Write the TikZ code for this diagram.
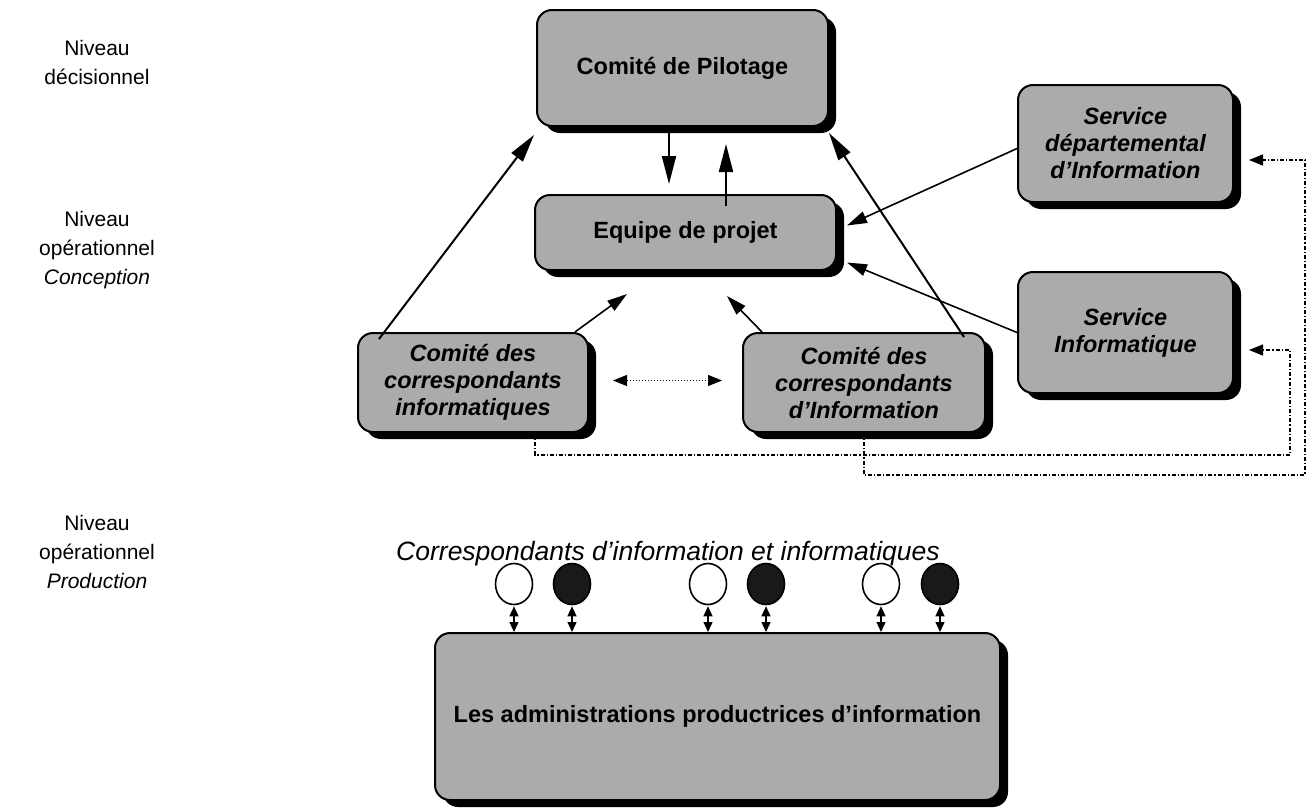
\documentclass[tikz,border=0pt]{standalone}
\usepackage{fontspec}
\setmainfont{Liberation Sans}
\usetikzlibrary{arrows.meta,shapes.geometric,shadows,calc}
\definecolor{boxgray}{gray}{0.67}
\begin{document}
\begin{tikzpicture}[x=1pt,y=-1pt,
  box/.style={draw=black, line width=2pt, fill=boxgray, rounded corners=15pt,
    inner sep=0pt, align=center, font=\fontsize{23.5}{27}\selectfont\bfseries,
    general shadow={fill=black, shadow xshift=8pt, shadow yshift=-7pt}},
  ibox/.style={box, font=\fontsize{23.5}{27}\selectfont\bfseries\itshape},
  lvl/.style={align=center, font=\fontsize{21}{29}\selectfont, inner sep=0pt},
  arr/.style={line width=2pt, -{Triangle[length=28pt,width=14pt]}},
  sarr/.style={line width=1.6pt, -{Triangle[length=20pt,width=12pt]}},
  dotarr/.style={line width=1pt, dotted, {Triangle[length=14pt,width=11pt]}-{Triangle[length=14pt,width=11pt]}},
  dd/.style={line width=1.3pt, dash pattern=on 4pt off 2pt on 1.2pt off 2pt},
  ddarr/.style={dd, -{Triangle[length=14pt,width=11pt]}},
  darr/.style={line width=1.3pt, {Triangle[length=10pt,width=9pt]}-{Triangle[length=10pt,width=9pt]}},
  wcirc/.style={draw=black, line width=1.6pt, fill=white, ellipse, minimum width=37pt, minimum height=41pt, inner sep=0pt},
  bcirc/.style={wcirc, fill=black!90}
]
\useasboundingbox (0,0) rectangle (1308,811);

% level labels
\node[lvl] (L1) at (97,62) {Niveau\\décisionnel};
\node[lvl] (L2) at (97,250) {Niveau\\opérationnel\\\textit{Conception}};
\node[lvl] (L3) at (97,552) {Niveau\\opérationnel\\\textit{Production}};

% boxes
\node[box, minimum width=291pt, minimum height=116pt] (Pil) at (682.5,68) {Comité de Pilotage};
\node[box, minimum width=301pt, minimum height=75pt] (Eq) at (685.5,232.5) {\raisebox{-4pt}{Equipe de projet}};
\node[ibox, minimum width=230pt, minimum height=99pt] (CCI) at (473,382.5) {Comité des\\correspondants\\informatiques};
\node[ibox, minimum width=242pt, minimum height=99pt] (CCD) at (864,382.5) {Comité des\\correspondants\\d’Information};
\node[ibox, minimum width=215pt, minimum height=117pt] (SD) at (1125.5,143.5) {Service\\départemental\\d’Information};
\node[ibox, minimum width=215pt, minimum height=121pt] (SI) at (1125.5,332.5) {Service\\Informatique};
\node[box, minimum width=565pt, minimum height=167pt] (Adm) at (717.5,716.5) {Les administrations productrices d’information};

% correspondants
\node[font=\fontsize{26.5}{30}\selectfont\itshape, inner sep=0pt] (Corr) at (668,554) {Correspondants d’information et informatiques};
\foreach \n/\x/\s in {w1/514/wcirc, b1/572/bcirc, w2/708/wcirc, b2/766/bcirc, w3/881/wcirc, b3/940/bcirc}{
  \node[\s] (\n) at (\x,584) {};
  \draw[darr] ($(\n.south)+(0,1)$) -- (\n.south |- Adm.north);
}

% connectors
\draw[arr] ($(CCI.north west)+(22,7)$) -- ($(Pil.south west)+(-2,8)$);
\draw[arr] ($(CCD.north east)+(-22,5)$) -- ($(Pil.south east)+(0,6)$);
\draw[sarr] ($(CCI.north east)+(-14,0)$) -- ($(Eq.south west)+(93,23)$);
\draw[sarr] ($(CCD.north west)+(20,0)$) -- ($(Eq.south west)+(193,25)$);
\draw[arr] ($(Pil.south west)+(133,0)$) -- ($(Eq.north west)+(135,-10)$);
\draw[arr] ($(Eq.north west)+(192,12)$) -- ($(Pil.south west)+(190,17)$);
\draw[sarr] ($(SD.west)+(0,5)$) -- ($(Eq.east)+(10,-7)$);
\draw[sarr] ($(SI.west)+(0,0)$) -- ($(Eq.east)+(10,30)$);
\draw[dotarr] ($(CCI.east)+(24,-2)$) -- ($(CCD.west)+(-20,-2)$);

\coordinate (r1) at (1290,455);
\coordinate (r2) at (1305,475);
\draw[ddarr] ($(CCI.south)+(62,0)$) |- (r1) |- ($(SI.east)+(15,17.5)$);
\draw[ddarr] (CCD.south) |- (r2) |- ($(SD.east)+(15,16.5)$);
\end{tikzpicture}
\end{document}
